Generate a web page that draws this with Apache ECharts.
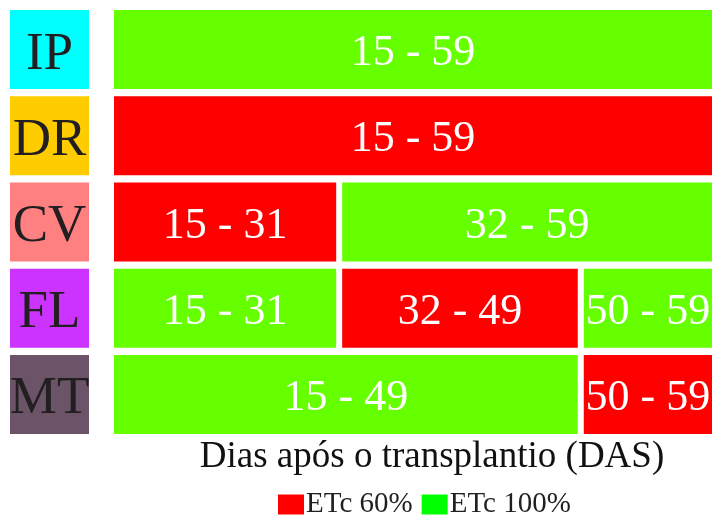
<!DOCTYPE html>
<html>
<head>
<meta charset="utf-8">
<script src="https://cdn.jsdelivr.net/npm/echarts@6/dist/echarts.min.js"></script>
<style>
  html, body { margin: 0; padding: 0; background: #fff; }
  #chart { width: 712px; height: 516px; }
</style>
</head>
<body>
<div id="chart"></div>
<script>
// ---- Data ----
const categories = ['IP', 'DR', 'CV', 'FL', 'MT'];
const segRow = [0, 1, 2, 2, 3, 3, 3, 4, 4];
const segStart = [15, 15, 15, 32, 15, 32, 50, 15, 50];
const segEnd = [59, 59, 31, 59, 31, 49, 59, 49, 59];
const segTreatment = ['ETc 100%', 'ETc 60%', 'ETc 60%', 'ETc 100%', 'ETc 100%', 'ETc 60%', 'ETc 100%', 'ETc 100%', 'ETc 60%'];
const treatments = ['ETc 60%', 'ETc 100%'];
const axisTitle = 'Dias após o transplantio (DAS)';

// ---- Styles ----
const FONT = '"Liberation Serif", "Times New Roman", serif';
const labelBg = ['#00FFFF', '#FFCC00', '#FF8080', '#CC33FF', '#6B5468'];
const barFill = { 'ETc 60%': '#FF0000', 'ETc 100%': '#66FF00' };
const legendFill = { 'ETc 60%': '#FF0000', 'ETc 100%': '#00FF00' };

const rich = {};
labelBg.forEach(function (c, i) {
  rich['a' + i] = {
    backgroundColor: c, width: 79, height: 69, lineHeight: 69,
    padding: [10, 0, 0, 0],
    align: 'center', verticalAlign: 'middle',
    fontFamily: FONT, fontSize: 53, color: '#231F20'
  };
});

function renderItem(params, api) {
  const row = api.value(0);
  const s = api.value(1);
  const e = api.value(2);
  const p0 = api.coord([s - 0.5, row]);
  const p1 = api.coord([e + 0.5, row]);
  const band = api.size([0, 1])[1];
  const h = band * 0.917;
  const x0 = p0[0] + 3, x1 = p1[0] - 3;
  return {
    type: 'rect',
    shape: { x: x0, y: p0[1] - h / 2, width: x1 - x0, height: h },
    style: { fill: barFill[params.seriesName] },
    textContent: {
      style: {
        text: s + ' - ' + e,
        fill: '#FFFFFF',
        font: '44px ' + FONT
      }
    },
    textConfig: { position: 'inside', offset: [0, 4] }
  };
}

const series = treatments.map(function (t) {
  const data = [];
  for (let i = 0; i < segRow.length; i++) {
    if (segTreatment[i] === t) data.push([segRow[i], segStart[i], segEnd[i]]);
  }
  return {
    type: 'custom',
    name: t,
    color: legendFill[t],
    renderItem: renderItem,
    encode: { x: [1, 2], y: 0 },
    data: data
  };
});

const chart = echarts.init(document.getElementById('chart'));
chart.setOption({
  animation: false,
  backgroundColor: '#FFFFFF',
  grid: { left: 111, top: 6.5, width: 604, height: 431, outerBoundsMode: 'none', containLabel: false },
  xAxis: {
    type: 'value', min: 14.5, max: 59.5, show: false
  },
  yAxis: {
    type: 'category', data: categories, inverse: true,
    axisLine: { show: false }, axisTick: { show: false }, splitLine: { show: false },
    axisLabel: {
      margin: 22,
      formatter: function (v, i) { return '{a' + i + '|' + v + '}'; },
      rich: rich
    }
  },
  legend: {
    data: treatments,
    left: 278, top: 490, padding: 0,
    itemWidth: 26, itemHeight: 20, itemGap: 9,
    icon: 'rect',
    textStyle: { fontFamily: FONT, fontSize: 29, color: '#231F20', padding: [0, 0, 0, -3] }
  },
  graphic: [{
    type: 'text', x: 432, y: 457,
    style: {
      text: axisTitle, font: '37px ' + FONT, fill: '#111111',
      textAlign: 'center', textVerticalAlign: 'middle'
    }
  }],
  series: series
});
</script>
</body>
</html>
